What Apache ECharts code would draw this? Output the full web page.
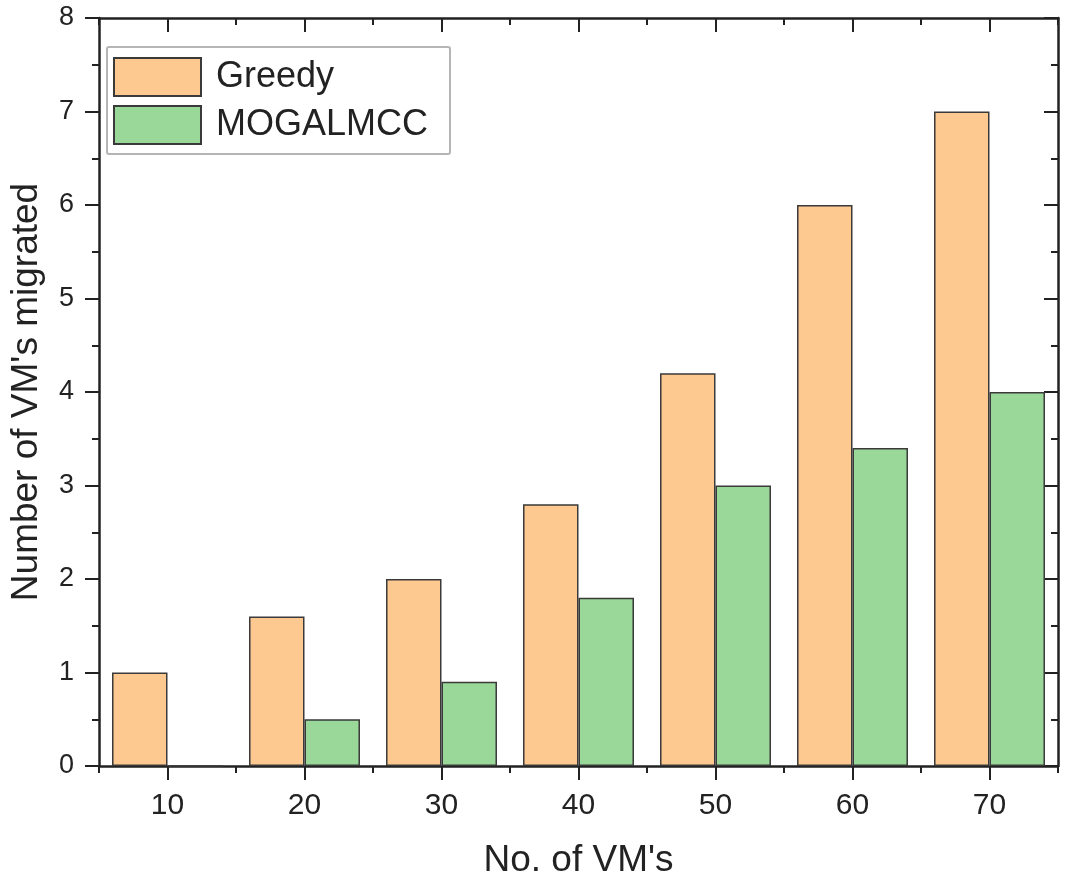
<!DOCTYPE html>
<html>
<head>
<meta charset="utf-8">
<script src="https://cdn.jsdelivr.net/npm/echarts@6/dist/echarts.min.js"></script>
<style>html,body{margin:0;padding:0;background:#fff;}#c{width:1065px;height:884px;}</style>
</head>
<body>
<div id="c"></div>
<script>
const categories = ['10', '20', '30', '40', '50', '60', '70'];
const greedy = [1, 1.6, 2, 2.8, 4.2, 6, 7];
const mogalmcc = [0, 0.5, 0.9, 1.8, 3, 3.4, 4];
const yMin = 0, yMax = 8, yStep = 1;

const font = 'Liberation Sans, Arial, sans-serif';
const axisColor = '#222';
const chart = echarts.init(document.getElementById('c'));

function xAx(pos, align, len, inside, showLine, labels) {
  return {
    type: 'category', data: categories, position: pos,
    axisLine: {show: showLine, lineStyle: {color: axisColor, width: 2.5}},
    axisTick: {show: true, alignWithLabel: align, length: len, inside: inside, lineStyle: {color: axisColor, width: 2}},
    axisLabel: labels ? {show: true, fontSize: 30, color: '#222', fontFamily: font, margin: 25} : {show: false},
    splitLine: {show: false}
  };
}

chart.setOption({
  backgroundColor: '#fff',
  animation: false,
  grid: {left: 98, right: 7, top: 18, bottom: 117, containLabel: false},
  legend: {
    left: 107, top: 47, orient: 'vertical',
    icon: 'rect',
    itemWidth: 87, itemHeight: 38, itemGap: 8,
    padding: [10, 22, 9, 6],
    borderColor: '#b5b5b5', borderWidth: 2, borderRadius: 2,
    textStyle: {fontSize: 36, color: '#222', fontFamily: font, padding: [0, 0, 0, 10]},
    data: ['Greedy', 'MOGALMCC']
  },
  xAxis: [
    Object.assign(xAx('bottom', true, 14, false, true, true), {
      name: "No. of VM's", nameLocation: 'middle', nameGap: 76,
      nameTextStyle: {fontSize: 37, color: '#222', fontFamily: font}
    }),
    xAx('bottom', false, 7, false, false, false),
    xAx('top', true, 14, true, true, false),
    xAx('top', false, 7, true, false, false)
  ],
  yAxis: [
    {
      type: 'value', min: yMin, max: yMax, interval: yStep, position: 'left',
      name: "Number of VM's migrated", nameLocation: 'middle', nameGap: 54,
      nameTextStyle: {fontSize: 37, color: '#222', fontFamily: font},
      axisLine: {show: true, lineStyle: {color: axisColor, width: 2.5}},
      axisTick: {show: true, length: 14, lineStyle: {color: axisColor, width: 2}},
      minorTick: {show: true, splitNumber: 2, length: 7, lineStyle: {color: axisColor, width: 2}},
      axisLabel: {fontSize: 27, color: '#222', fontFamily: font, margin: 25},
      splitLine: {show: false}
    },
    {
      type: 'value', min: yMin, max: yMax, interval: yStep, position: 'right',
      axisLine: {show: true, lineStyle: {color: axisColor, width: 2.5}},
      axisTick: {show: true, inside: true, length: 14, lineStyle: {color: axisColor, width: 2}},
      minorTick: {show: true, splitNumber: 2, length: 7, lineStyle: {color: axisColor, width: 2}},
      axisLabel: {show: false},
      splitLine: {show: false}
    }
  ],
  series: [
    {
      name: 'Greedy', type: 'bar', data: greedy, xAxisIndex: 0, yAxisIndex: 0,
      barGap: '0%', barCategoryGap: '19%',
      itemStyle: {color: '#FEC891', borderColor: '#3a3a3a', borderWidth: 1.5}
    },
    {
      name: 'MOGALMCC', type: 'bar', data: mogalmcc, xAxisIndex: 0, yAxisIndex: 0,
      itemStyle: {color: '#99D898', borderColor: '#3a3a3a', borderWidth: 1.5}
    }
  ]
});
</script>
</body>
</html>
